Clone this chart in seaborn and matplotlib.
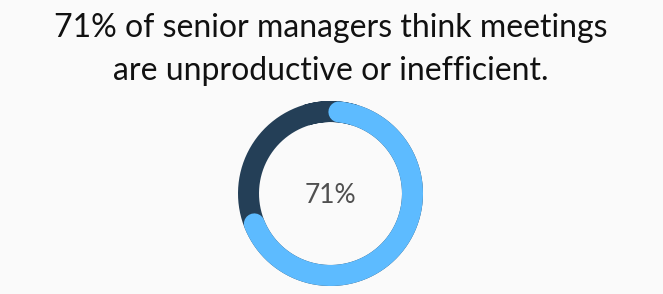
import numpy as np
import pandas as pd
import matplotlib
matplotlib.use("Agg")
import matplotlib.pyplot as plt
import seaborn as sns

# ---- data ----
labels = ["Unproductive or inefficient", "Other"]
values = [71, 29]
title_lines = ["71% of senior managers think meetings",
               "are unproductive or inefficient."]
center_label = "71%"

BG = "#FAFAFA"
LIGHT = "#5DBBFF"
DARK = "#243F57"

sns.set_theme(style="white")
plt.rcParams["font.family"] = ["Lato", "DejaVu Sans"]

W, H, DPI = 663, 294, 100
fig = plt.figure(figsize=(W / DPI, H / DPI), dpi=DPI, facecolor=BG)

# polar axes centred on the donut, 1 radial unit = 1 pixel
cx, cy, half = 330.5, 193.5, 100
ax = fig.add_axes([(cx - half) / W, (H - cy - half) / H, 2 * half / W, 2 * half / H],
                  projection="polar")
ax.set_facecolor("none")
ax.set_theta_zero_location("N")
ax.set_theta_direction(-1)
ax.set_ylim(0, half)
ax.set_axis_off()

r_mid, ring_w = 82, 21
lw = ring_w * 72 / DPI

frac = values[0] / sum(values)
# background ring (the whole circle, dark), closed with overlap
th_full = np.linspace(-0.3, 2 * np.pi + 0.3, 500)
ring = pd.DataFrame({"theta": th_full, "r": np.full_like(th_full, r_mid)})
sns.lineplot(data=ring, x="theta", y="r", ax=ax, color=DARK, linewidth=lw,
             solid_capstyle="butt", sort=False)

# value arc with rounded ends, fitted inside the value's share
cap = (ring_w / 2) / r_mid
th_val = np.linspace(cap * 0.8, 2 * np.pi * frac - cap, 300)
arc = pd.DataFrame({"theta": th_val, "r": np.full_like(th_val, r_mid)})
sns.lineplot(data=arc, x="theta", y="r", ax=ax, color=LIGHT, linewidth=lw,
             solid_capstyle="round", sort=False)
ax.set_ylim(0, half)
ax.set_xlabel("")
ax.set_ylabel("")

fig.text(cx / W, 1 - 203 / H, center_label, ha="center", va="baseline",
         fontsize=19, color="#505050", fontweight="normal",
         family=["Lato", "DejaVu Sans"])

fig.text(331 / W, 1 - 37 / H, title_lines[0], ha="center", va="baseline",
         fontsize=23, color="#111111")
fig.text(330.5 / W, 1 - 80 / H, title_lines[1], ha="center", va="baseline",
         fontsize=23, color="#111111")

fig.savefig("out.png", dpi=DPI, facecolor=BG)
